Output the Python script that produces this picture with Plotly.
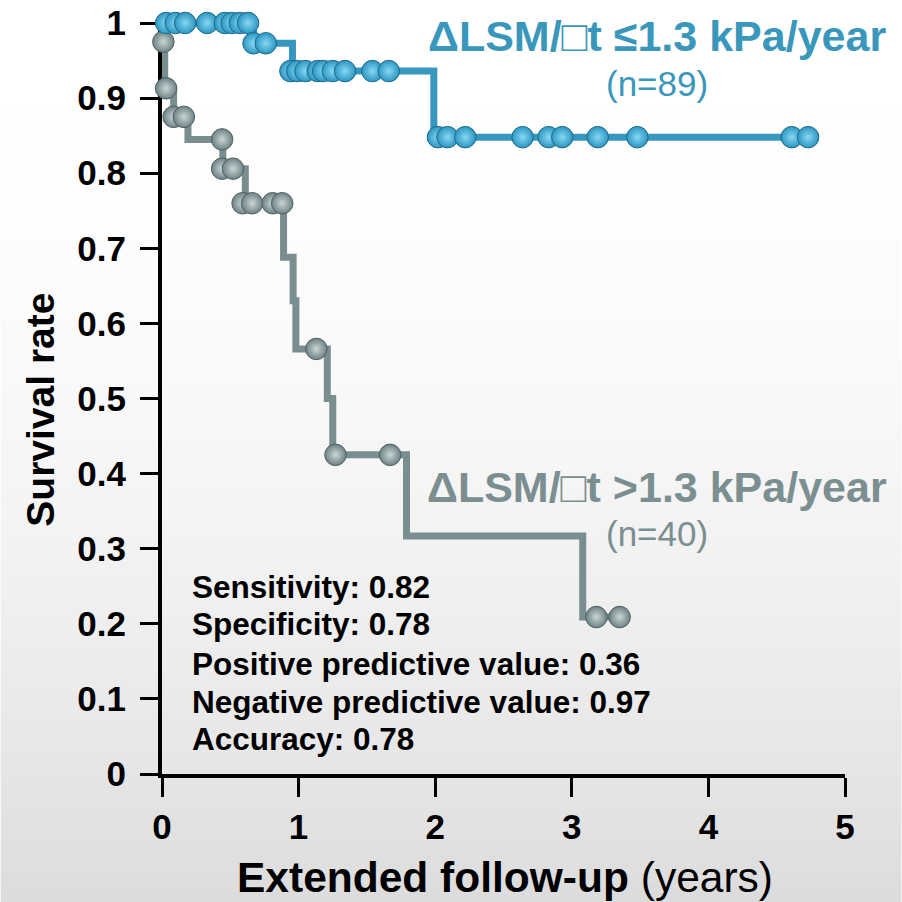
import plotly.graph_objects as go

# ---------------- data ----------------
# Group with ΔLSM/Δt <= 1.3 kPa/year (n=89)
low_step_t = [0.67, 0.955, 1.99]
low_step_s = [0.973, 0.936, 0.848]
low_end_t = 4.73
low_cens_t = [0.03, 0.10, 0.17, 0.33, 0.46, 0.51, 0.57, 0.63,
              0.67, 0.76,
              0.94, 0.99, 1.05, 1.14, 1.18, 1.25, 1.34, 1.54, 1.66,
              2.02, 2.09, 2.22, 2.64, 2.83, 2.93, 3.19, 3.48, 4.61, 4.73]
low_cens_s = [1.0] * 8 + [0.973] * 2 + [0.936] * 9 + [0.848] * 10

# Group with ΔLSM/Δt > 1.3 kPa/year (n=40)
high_step_t = [0.005, 0.02, 0.085, 0.19, 0.445, 0.61, 0.89, 0.96, 0.98, 1.21, 1.25, 1.79, 3.08]
high_step_s = [0.975, 0.913, 0.875, 0.845, 0.806, 0.76, 0.688, 0.63, 0.566, 0.50, 0.425, 0.317, 0.209]
high_end_t = 3.35
high_cens_t = [0.01, 0.03, 0.085, 0.16, 0.44, 0.44, 0.52, 0.59, 0.66, 0.81, 0.88, 1.13, 1.27, 1.67, 3.18, 3.35]
high_cens_s = [0.975, 0.913, 0.875, 0.875, 0.845, 0.806, 0.806, 0.76, 0.76, 0.76, 0.76, 0.566, 0.425, 0.425, 0.209, 0.209]

x_ticks = [0, 1, 2, 3, 4, 5]
y_ticks = [0, 0.1, 0.2, 0.3, 0.4, 0.5, 0.6, 0.7, 0.8, 0.9, 1]
y_tick_labels = ["0", "0.1", "0.2", "0.3", "0.4", "0.5", "0.6", "0.7", "0.8", "0.9", "1"]

stats_lines = ["Sensitivity: 0.82", "Specificity: 0.78", "Positive predictive value: 0.36",
               "Negative predictive value: 0.97", "Accuracy: 0.78"]

label_low = "ΔLSM/□t ≤1.3 kPa/year"
label_high = "ΔLSM/□t >1.3 kPa/year"
n_low = "(n=89)"
n_high = "(n=40)"

# ---------------- layout geometry ----------------
W = H = 902
L, R, T, B = 161.5, 56.5, 23, 128
PW = W - L - R
PH = H - T - B


def px(xp):
    return (xp - L) / PW


def py(yp):
    return (H - B - yp) / PH


BLUE_LINE = "#3897BE"
GRAY_LINE = "#7A8D8F"
BLUE_TXT = "#3A97BC"
GRAY_TXT = "#7B8E90"
FONT = "Liberation Sans, Arial, sans-serif"

fig = go.Figure()


def km_xy(step_t, step_s, end_t):
    xs = [0] + list(step_t) + [end_t]
    ys = [1.0] + list(step_s) + [step_s[-1]]
    return xs, ys


# gray group first (blue on top)
hx, hy = km_xy(high_step_t, high_step_s, high_end_t)
fig.add_trace(go.Scatter(x=hx, y=hy, mode="lines", line=dict(color=GRAY_LINE, width=7, shape="hv"),
                         cliponaxis=False, hoverinfo="skip", showlegend=False))
fig.add_trace(go.Scatter(x=high_cens_t, y=high_cens_s, mode="markers", cliponaxis=False, showlegend=False,
                         marker=dict(size=21.5, color="#6D8284",
                                     gradient=dict(type="radial", color="#CBD6D6"),
                                     line=dict(color="#4E5F61", width=1))))

lx, ly = km_xy(low_step_t, low_step_s, low_end_t)
fig.add_trace(go.Scatter(x=lx, y=ly, mode="lines", line=dict(color=BLUE_LINE, width=7, shape="hv"),
                         cliponaxis=False, hoverinfo="skip", showlegend=False))
fig.add_trace(go.Scatter(x=low_cens_t, y=low_cens_s, mode="markers", cliponaxis=False, showlegend=False,
                         marker=dict(size=21.5, color="#2C95C2",
                                     gradient=dict(type="radial", color="#86D8F2"),
                                     line=dict(color="#1D6A8A", width=1))))

# ---------------- background gradient (bands) ----------------
shapes = []
nb = 90
for i in range(nb):
    y0 = i * H / nb
    y1 = (i + 1) * H / nb + 0.6
    ym = (y0 + y1) / 2
    c = int(round(255 - 35 * (ym / H) ** 2))
    shapes.append(dict(type="rect", xref="paper", yref="paper", layer="below",
                       x0=px(0), x1=px(W), y0=py(y1), y1=py(y0),
                       fillcolor=f"rgb({c},{c},{c})", line=dict(width=0)))

# ---------------- annotations ----------------
ann = []
ann.append(dict(text=f"<b>{label_low}</b>", x=px(657), y=py(36), xref="paper", yref="paper",
                xanchor="center", yanchor="middle", showarrow=False,
                font=dict(family=FONT, size=43, color=BLUE_TXT)))
ann.append(dict(text=n_low, x=px(657), y=py(84), xref="paper", yref="paper",
                xanchor="center", yanchor="middle", showarrow=False,
                font=dict(family=FONT, size=35, color=BLUE_TXT)))
ann.append(dict(text=f"<b>{label_high}</b>", x=px(657), y=py(487), xref="paper", yref="paper",
                xanchor="center", yanchor="middle", showarrow=False,
                font=dict(family=FONT, size=43, color=GRAY_TXT)))
ann.append(dict(text=n_high, x=px(657), y=py(533), xref="paper", yref="paper",
                xanchor="center", yanchor="middle", showarrow=False,
                font=dict(family=FONT, size=35, color=GRAY_TXT)))

stat_y = [587, 624, 664, 702, 739]
for txt, yy in zip(stats_lines, stat_y):
    ann.append(dict(text=f"<b>{txt}</b>", x=px(190), y=py(yy), xref="paper", yref="paper",
                    xanchor="left", yanchor="middle", showarrow=False,
                    font=dict(family=FONT, size=31.5, color="#000000")))

ann.append(dict(text="<b>Extended follow-up</b> (years)", x=px(505), y=py(877), xref="paper", yref="paper",
                xanchor="center", yanchor="middle", showarrow=False,
                font=dict(family=FONT, size=42.5, color="#000000")))
ann.append(dict(text="<b>Survival rate</b>", x=px(40), y=py(410), xref="paper", yref="paper",
                xanchor="center", yanchor="middle", showarrow=False, textangle=-90,
                font=dict(family=FONT, size=39, color="#000000")))

fig.update_layout(
    width=W, height=H,
    margin=dict(l=L, r=R, t=T, b=B, pad=0),
    paper_bgcolor="#FFFFFF",
    plot_bgcolor="rgba(0,0,0,0)",
    shapes=shapes,
    annotations=ann,
    showlegend=False,
    xaxis=dict(range=[0, 5], tickvals=x_ticks, ticktext=[str(v) for v in x_ticks],
               showgrid=False, zeroline=False, showline=True, linecolor="#000000", linewidth=4,
               ticks="outside", ticklen=19, tickwidth=3, tickcolor="#000000",
               tickfont=dict(family=FONT, size=35, color="#000000", weight="bold"),
               ticklabelstandoff=0, layer="below traces", fixedrange=True, automargin=False),
    yaxis=dict(range=[0, 1], tickvals=y_ticks, ticktext=y_tick_labels,
               showgrid=False, zeroline=False, showline=True, linecolor="#000000", linewidth=4,
               ticks="outside", ticklen=18, tickwidth=3, tickcolor="#000000",
               tickfont=dict(family=FONT, size=35, color="#000000", weight="bold"),
               ticklabelstandoff=7, layer="below traces", fixedrange=True, automargin=False),
)

fig.write_html("out.html")
